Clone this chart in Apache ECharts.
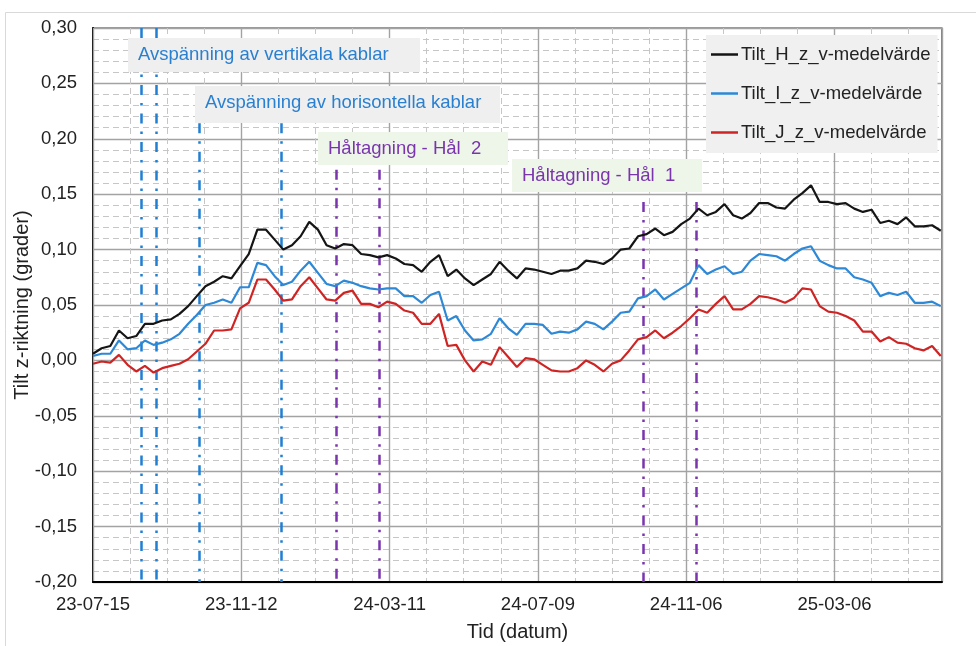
<!DOCTYPE html>
<html><head><meta charset="utf-8">
<script src="https://cdn.jsdelivr.net/npm/echarts/dist/echarts.min.js"></script>
<style>html,body{margin:0;padding:0;background:#fff}#c{width:976px;height:646px}</style>
</head><body><div id="c"></div>
<script>
// ---- data ----
const startDate = '2023-07-15';
const endDate = '2025-06-01';
const weekCount = 99;
const seriesNames = ['Tilt_H_z_v-medelvärde', 'Tilt_I_z_v-medelvärde', 'Tilt_J_z_v-medelvärde'];
const tiltH = [0.006,0.011,0.013,0.027,0.020,0.022,0.033,0.033,0.036,0.037,0.042,0.049,0.058,0.067,0.071,0.076,0.074,0.085,0.096,0.118,
  0.118,0.109,0.100,0.104,0.112,0.125,0.118,0.104,0.101,0.105,0.104,0.096,0.095,0.093,0.095,0.092,0.087,0.086,0.080,0.089,
  0.095,0.076,0.082,0.074,0.068,0.073,0.078,0.089,0.081,0.074,0.083,0.082,0.080,0.078,0.081,0.081,0.083,0.090,0.089,0.087,
  0.092,0.100,0.101,0.112,0.114,0.119,0.113,0.116,0.123,0.128,0.137,0.131,0.134,0.141,0.131,0.128,0.133,0.142,0.142,0.138,
  0.137,0.145,0.151,0.158,0.143,0.143,0.141,0.142,0.137,0.134,0.136,0.124,0.126,0.123,0.129,0.121,0.121,0.122,0.117];
const tiltI = [0.004,0.006,0.006,0.018,0.010,0.011,0.018,0.014,0.016,0.019,0.024,0.033,0.041,0.050,0.052,0.055,0.052,0.066,0.066,0.088,
  0.086,0.076,0.068,0.071,0.081,0.089,0.079,0.069,0.067,0.072,0.070,0.067,0.065,0.064,0.065,0.065,0.058,0.058,0.052,0.059,
  0.062,0.036,0.040,0.027,0.018,0.019,0.024,0.038,0.029,0.023,0.033,0.033,0.032,0.024,0.026,0.025,0.028,0.035,0.033,0.028,
  0.035,0.043,0.044,0.056,0.058,0.064,0.055,0.060,0.065,0.070,0.086,0.078,0.082,0.085,0.078,0.080,0.090,0.096,0.095,0.094,
  0.090,0.096,0.101,0.103,0.090,0.086,0.083,0.083,0.075,0.073,0.070,0.058,0.061,0.059,0.062,0.052,0.052,0.053,0.049];
const tiltJ = [-0.003,-0.001,-0.002,0.005,-0.004,-0.010,-0.005,-0.011,-0.007,-0.005,-0.003,0.001,0.008,0.015,0.027,0.027,0.028,0.047,0.052,0.073,
  0.073,0.064,0.054,0.055,0.067,0.075,0.065,0.055,0.054,0.061,0.063,0.051,0.051,0.048,0.053,0.051,0.045,0.043,0.033,0.033,
  0.042,0.013,0.014,0.000,-0.010,-0.001,-0.004,0.012,0.003,-0.006,0.002,0.001,-0.004,-0.009,-0.010,-0.010,-0.007,0.000,-0.004,-0.010,
  -0.003,0.000,0.009,0.019,0.021,0.027,0.020,0.025,0.031,0.038,0.046,0.043,0.051,0.058,0.046,0.046,0.051,0.058,0.057,0.055,
  0.052,0.056,0.065,0.064,0.049,0.044,0.043,0.040,0.036,0.026,0.026,0.017,0.021,0.016,0.015,0.011,0.009,0.013,0.004];
const cableMarkerDates = ['2023-08-23', '2023-09-04', '2023-10-09', '2023-12-14'];
const cableMarkerTops = [0.30, 0.30, 0.214, 0.214];
const drillMarkerDates = ['2024-01-28', '2024-03-03', '2024-10-02', '2024-11-14'];
const drillMarkerTops = [0.172, 0.172, 0.143, 0.143];
const annotationTexts = ['Avspänning av vertikala kablar', 'Avspänning av horisontella kablar', 'Håltagning - Hål  2', 'Håltagning - Hål  1'];

// ---- helpers ----
const DAY = 86400000;
function toMs(s){ const p = s.split('-').map(Number); return Date.UTC(p[0], p[1]-1, p[2]); }
const t0 = toMs(startDate);
function dayOf(s){ return Math.round((toMs(s) - t0) / DAY); }
function fmtDay(v){
  const d = new Date(t0 + v * DAY);
  const yy = String(d.getUTCFullYear()).slice(2);
  const mm = String(d.getUTCMonth()+1).padStart(2,'0');
  const dd = String(d.getUTCDate()).padStart(2,'0');
  return yy + '-' + mm + '-' + dd;
}
const dates = [];
for (let i = 0; i < weekCount; i++) dates.push(fmtDay(i * 7));
const xMax = dayOf(endDate);
const FONT = '"Liberation Sans", Arial, sans-serif';
const FS = 18.5;
function pairs(vals){ return vals.map((v, i) => [dayOf('20' + dates[i]), v]); }

function markLines(ds, tops){
  return ds.map((d, i) => [{coord: [dayOf(d), tops[i]]}, {coord: [dayOf(d), -0.2]}]);
}

const chart = echarts.init(document.getElementById('c'), null, {renderer: 'canvas'});
const colors = ['#151515', '#2d88d6', '#cf2424'];

const option = {
  backgroundColor: '#ffffff',
  animation: false,
  textStyle: {fontFamily: FONT},
  grid: {left: 93, top: 28, right: 34, bottom: 64, show: true, borderColor: '#333', borderWidth: 1.2, backgroundColor: 'transparent', containLabel: false, outerBoundsMode: 'none'},
  legend: {
    data: seriesNames, orient: 'vertical', left: 706, top: 35,
    backgroundColor: '#f0f0f0', padding: [10, 7, 11, 5], itemGap: 20,
    itemWidth: 27, itemHeight: 2.5, icon: 'rect',
    textStyle: {fontSize: FS, color: '#222', fontFamily: FONT, padding: [0,0,0,-2]},
    z: 20
  },
  xAxis: [{
    type: 'value', min: 0, max: xMax, interval: 120, z: 2,
    axisLine: {show: true, onZero: false, lineStyle: {color: '#000', width: 2}},
    axisTick: {show: false},
    axisLabel: {formatter: v => fmtDay(v), fontSize: FS, color: '#222', margin: 13, showMaxLabel: false, fontFamily: FONT},
    splitLine: {show: true, lineStyle: {color: '#a3a3a3', width: 1.4}},
    name: 'Tid (datum)', nameLocation: 'middle', nameGap: 40, nameMoveOverlap: false,
    nameTextStyle: {fontSize: 20, color: '#222', fontFamily: FONT}
  }, {
    type: 'value', min: 0, max: xMax, interval: 30, z: 1,
    axisLine: {show: false}, axisTick: {show: false}, axisLabel: {show: false},
    splitLine: {show: true, lineStyle: {color: '#c6c6c6', width: 1, type: [6, 4]}}
  }],
  yAxis: {
    type: 'value', min: -0.2, max: 0.3, interval: 0.05,
    axisLine: {show: true, onZero: false, lineStyle: {color: '#000', width: 2}},
    axisTick: {show: false},
    axisLabel: {formatter: v => v.toFixed(2).replace('.', ','), fontSize: FS, color: '#222', margin: 16, fontFamily: FONT},
    splitLine: {show: true, lineStyle: {color: '#a3a3a3', width: 1.4}},
    minorTick: {show: false, splitNumber: 5},
    minorSplitLine: {show: true, lineStyle: {color: '#c6c6c6', width: 1, type: [6, 4]}},
    name: 'Tilt z-riktning (grader)', nameLocation: 'middle', nameGap: 61, nameRotate: 90, nameMoveOverlap: false,
    nameTextStyle: {fontSize: 20, color: '#222', fontFamily: FONT}
  },
  series: [
    {name: seriesNames[0], type: 'line', data: pairs(tiltH), symbol: 'none', showSymbol: false, lineStyle: {width: 2.2, color: colors[0]}, itemStyle: {color: colors[0]}, z: 5},
    {name: seriesNames[1], type: 'line', data: pairs(tiltI), symbol: 'none', showSymbol: false, lineStyle: {width: 2.2, color: colors[1]}, itemStyle: {color: colors[1]}, z: 5},
    {name: seriesNames[2], type: 'line', data: pairs(tiltJ), symbol: 'none', showSymbol: false, lineStyle: {width: 2.2, color: colors[2]}, itemStyle: {color: colors[2]}, z: 5},
    {name: 'markers', type: 'line', data: [], z: 4,
      markLine: {silent: true, symbol: ['none', 'none'], label: {show: false}, animation: false,
        lineStyle: {color: '#1f7fd3', width: 2.5, type: [10, 8, 2.5, 8]},
        data: markLines(cableMarkerDates, cableMarkerTops)}},
    {name: 'markers2', type: 'line', data: [], z: 4,
      markLine: {silent: true, symbol: ['none', 'none'], label: {show: false}, animation: false,
        lineStyle: {color: '#7a35ad', width: 2.5, type: [10, 8, 2.5, 8]},
        data: markLines(drillMarkerDates, drillMarkerTops)}}
  ],
  graphic: [
    {type: 'rect', z: 0, silent: true, shape: {x: 5.5, y: 12.5, width: 1000, height: 700}, style: {fill: 'none', stroke: '#d9d9d9', lineWidth: 1}},
    {type: 'rect', z: 50, shape: {x: 128, y: 38, width: 292, height: 34}, style: {fill: '#efefef'}},
    {type: 'text', z: 51, x: 138, y: 55, style: {text: annotationTexts[0], fill: '#2a80d0', font: FS + 'px ' + FONT, verticalAlign: 'middle'}},
    {type: 'rect', z: 50, shape: {x: 195, y: 86, width: 305, height: 37}, style: {fill: '#efefef'}},
    {type: 'text', z: 51, x: 205, y: 103, style: {text: annotationTexts[1], fill: '#2a80d0', font: FS + 'px ' + FONT, verticalAlign: 'middle'}},
    {type: 'rect', z: 50, shape: {x: 318, y: 132, width: 190, height: 33}, style: {fill: '#eef6ea'}},
    {type: 'text', z: 51, x: 328, y: 149, style: {text: annotationTexts[2], fill: '#7a35ad', font: FS + 'px ' + FONT, verticalAlign: 'middle'}},
    {type: 'rect', z: 50, shape: {x: 512, y: 159, width: 190, height: 33}, style: {fill: '#eef6ea'}},
    {type: 'text', z: 51, x: 522, y: 176, style: {text: annotationTexts[3], fill: '#7a35ad', font: FS + 'px ' + FONT, verticalAlign: 'middle'}}
  ]
};
chart.setOption(option);
</script></body></html>
